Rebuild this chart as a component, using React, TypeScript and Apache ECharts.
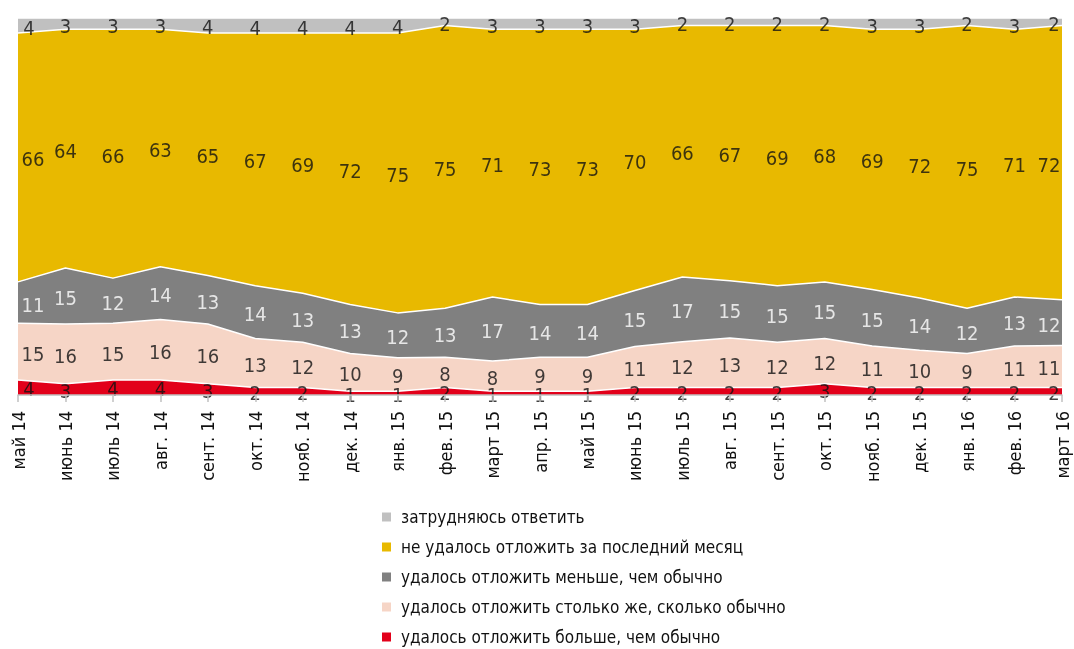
import React, { useEffect, useRef } from "react";
import * as echarts from "echarts";

const categories = [
  "май 14", "июнь 14", "июль 14", "авг. 14", "сент. 14", "окт. 14", "нояб. 14", "дек. 14",
  "янв. 15", "фев. 15", "март 15", "апр. 15", "май 15", "июнь 15", "июль 15", "авг. 15",
  "сент. 15", "окт. 15", "нояб. 15", "дек. 15", "янв. 16", "фев. 16", "март 16",
];

const more = [4, 3, 4, 4, 3, 2, 2, 1, 1, 2, 1, 1, 1, 2, 2, 2, 2, 3, 2, 2, 2, 2, 2];
const same = [15, 16, 15, 16, 16, 13, 12, 10, 9, 8, 8, 9, 9, 11, 12, 13, 12, 12, 11, 10, 9, 11, 11];
const less = [11, 15, 12, 14, 13, 14, 13, 13, 12, 13, 17, 14, 14, 15, 17, 15, 15, 15, 15, 14, 12, 13, 12];
const none = [66, 64, 66, 63, 65, 67, 69, 72, 75, 75, 71, 73, 73, 70, 66, 67, 69, 68, 69, 72, 75, 71, 72];
const hard = [4, 3, 3, 3, 4, 4, 4, 4, 4, 2, 3, 3, 3, 3, 2, 2, 2, 2, 3, 3, 2, 3, 2];

const seriesNames = [
  "удалось отложить больше, чем обычно",
  "удалось отложить столько же, сколько обычно",
  "удалось отложить меньше, чем обычно",
  "не удалось отложить за последний месяц",
  "затрудняюсь ответить",
];
const seriesValues = [more, same, less, none, hard];
const seriesColors = ["#e2001a", "#f6d5c6", "#808080", "#e8b900", "#c0c0c0"];
const labelColors = ["#111", "#111", "#ffffff", "#111", "#111"];

const FONT = '"Liberation Sans Narrow", "DejaVu Sans Condensed", "Open Sans", sans-serif';

export default function App() {
  const ref = useRef<HTMLDivElement>(null);
  useEffect(() => {
    if (!ref.current) return;
    const chart = echarts.init(ref.current, null, { renderer: "svg" });
    const n = categories.length;
    const totals = categories.map((_, i) => seriesValues.reduce((s, arr) => s + arr[i], 0));
    const areaSeries: any[] = seriesValues.map((vals, k) => ({
      name: seriesNames[k],
      type: "line",
      stack: "total",
      data: vals.map((v, i) => (v / totals[i]) * 100),
      symbol: "none",
      lineStyle: { color: "#ffffff", width: 1.5 },
      itemStyle: { color: seriesColors[k] },
      areaStyle: { color: seriesColors[k], opacity: 1 },
      z: 2,
    }));
    const labelSeries: any[] = seriesValues.map((vals, k) => ({
      name: "lbl" + k,
      type: "scatter",
      symbolSize: 1,
      itemStyle: { color: "transparent" },
      z: 5,
      data: vals.map((v, i) => {
        let cum = 0;
        for (let j = 0; j < k; j++) cum += seriesValues[j][i];
        const item: any = { value: [i, ((cum + v / 2) / totals[i]) * 100, v] };
        if (i === 0) item.label = { offset: [v >= 10 ? 15 : 11, 2] };
        else if (i === n - 1) item.label = { offset: [v >= 10 ? -13 : -8, 2] };
        else item.label = { offset: [0, 2] };
        return item;
      }),
      label: {
        show: true,
        position: "inside",
        formatter: (p: any) => String(p.value[2]),
        color: labelColors[k],
        fontFamily: FONT,
        fontSize: 20,
      },
      silent: true,
    }));
    chart.setOption({
      animation: false,
      grid: { left: 18, right: 12, top: 18, bottom: 254, containLabel: false },
      xAxis: {
        type: "category",
        data: categories,
        boundaryGap: false,
        axisLine: { lineStyle: { color: "#c0c0c0", width: 1.5 } },
        axisTick: { show: true, length: 7, lineStyle: { color: "#c0c0c0", width: 1.5 } },
        axisLabel: {
          rotate: 90,
          interval: 0,
          margin: 16,
          color: "#111",
          fontFamily: FONT,
          fontSize: 18,
        },
        z: 6,
      },
      yAxis: { type: "value", min: 0, max: 100, show: false },
      legend: {
        orient: "vertical",
        left: 382,
        top: 507,
        padding: 0,
        itemWidth: 9,
        itemHeight: 9,
        itemGap: 10,
        icon: "rect",
        data: [...seriesNames].reverse(),
        textStyle: { color: "#111", fontFamily: FONT, fontSize: 17, lineHeight: 20, padding: [0, 0, 0, 5] },
        selectedMode: false,
      },
      series: [...areaSeries, ...labelSeries],
    });
    return () => chart.dispose();
  }, []);
  return (
    <div
      ref={ref}
      style={{ position: "fixed", left: 0, top: 0, width: 1074, height: 649, overflow: "hidden" }}
    />
  );
}
